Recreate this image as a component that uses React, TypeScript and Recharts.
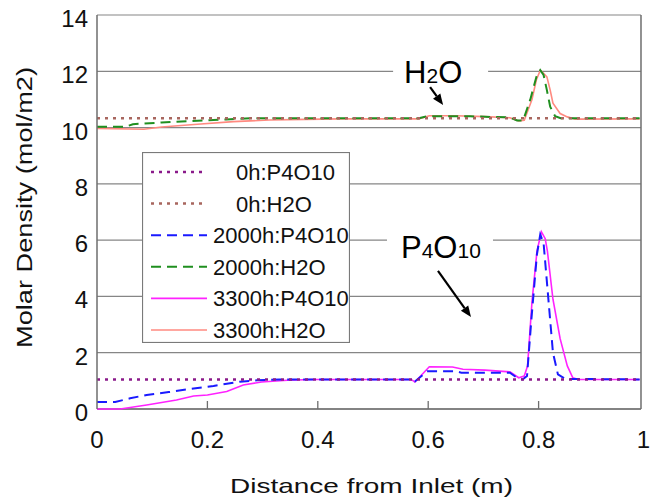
import {
  LineChart,
  Line,
  XAxis,
  YAxis,
  CartesianGrid,
  Legend,
  ReferenceLine,
  ReferenceDot,
} from "recharts";

const FONT = '"Liberation Sans", Arial, sans-serif';

// --- data: distance from inlet (m) / molar density (mol/m2) ---
const X_0H = [0, 0.983];
const P4O10_0H = [1.05, 1.05];
const H2O_0H = [10.33, 10.33];

const X_2000_P4O10 = [
  0, 0.033, 0.06, 0.09, 0.13, 0.175, 0.211, 0.259, 0.29, 0.33, 0.569, 0.576,
  0.598, 0.65, 0.66, 0.748, 0.761, 0.771, 0.779, 0.787, 0.797, 0.803, 0.809,
  0.816, 0.826, 0.835, 0.848, 0.983,
];
const P4O10_2000 = [
  0.25, 0.25, 0.38, 0.5, 0.6, 0.73, 0.82, 0.97, 1.02, 1.05, 1.05, 0.98, 1.34,
  1.34, 1.29, 1.29, 1.11, 1.05, 1.17, 3.2, 5.5, 6.2, 5.9, 4.3, 2.0, 1.23, 1.07,
  1.05,
];

const X_2000_H2O = [
  0, 0.052, 0.065, 0.117, 0.182, 0.234, 0.28, 0.583, 0.598, 0.676, 0.748,
  0.761, 0.772, 0.785, 0.796, 0.803, 0.809, 0.815, 0.821, 0.83, 0.84, 0.983,
];
const H2O_2000 = [
  10.03, 10.03, 10.12, 10.18, 10.24, 10.29, 10.33, 10.33, 10.4, 10.4, 10.36,
  10.25, 10.25, 11.0, 11.8, 12.04, 11.87, 11.33, 10.74, 10.4, 10.33, 10.33,
];

const X_3300_P4O10 = [
  0, 0.042, 0.09, 0.144, 0.175, 0.2, 0.235, 0.265, 0.298, 0.345, 0.39, 0.569,
  0.576, 0.602, 0.644, 0.663, 0.703, 0.748, 0.764, 0.774, 0.78, 0.788, 0.797,
  0.805, 0.812, 0.816, 0.826, 0.839, 0.852, 0.862, 0.872, 0.983,
];
const P4O10_3300 = [
  0, 0, 0.14, 0.32, 0.46, 0.5, 0.62, 0.85, 0.96, 1.02, 1.05, 1.05, 0.96, 1.5,
  1.49, 1.41, 1.38, 1.32, 1.11, 1.17, 1.53, 3.8, 5.6, 6.3, 6.05, 5.6, 3.9, 2.5,
  1.53, 1.11, 1.05, 1.05,
];

const X_3300_H2O = [
  0, 0.085, 0.117, 0.182, 0.247, 0.312, 0.377, 0.44, 0.583, 0.602, 0.65, 0.703,
  0.748, 0.764, 0.774, 0.788, 0.796, 0.803, 0.809, 0.815, 0.821, 0.826, 0.839,
  0.852, 0.866, 0.983,
];
const H2O_3300 = [
  9.97, 9.94, 10.02, 10.12, 10.21, 10.27, 10.29, 10.31, 10.31, 10.42, 10.42,
  10.39, 10.35, 10.24, 10.26, 11.0, 11.7, 12.03, 11.93, 11.8, 11.33, 10.87,
  10.5, 10.38, 10.3, 10.31,
];

const SERIES_NAMES = [
  "0h:P4O10",
  "0h:H2O",
  "2000h:P4O10",
  "2000h:H2O",
  "3300h:P4O10",
  "3300h:H2O",
];

const X_TICKS = [0, 0.2, 0.4, 0.6, 0.8, 1];
const X_TICK_LABELS = ["0", "0.2", "0.4", "0.6", "0.8", "1"];
const Y_TICKS = [0, 2, 4, 6, 8, 10, 12, 14];

// plot frame ends a little before x = 1 in the original figure
const X_FRAME = 0.9855;

type Pt = { x: number; y: number };
const toPoints = (xs: number[], ys: number[]): Pt[] =>
  xs.map((x, i) => ({ x, y: ys[i] }));

type Series = {
  name: string;
  points: Pt[];
  color: string;
  dash?: string;
  width: number;
};

// legend order
const SERIES: Series[] = [
  { name: SERIES_NAMES[0], points: toPoints(X_0H, P4O10_0H), color: "#8a1a8a", dash: "3 5", width: 2.5 },
  { name: SERIES_NAMES[1], points: toPoints(X_0H, H2O_0H), color: "#a8665e", dash: "3 5", width: 2.5 },
  { name: SERIES_NAMES[2], points: toPoints(X_2000_P4O10, P4O10_2000), color: "#1a1aff", dash: "10 6", width: 2 },
  { name: SERIES_NAMES[3], points: toPoints(X_2000_H2O, H2O_2000), color: "#1f8f1f", dash: "10 6", width: 2 },
  { name: SERIES_NAMES[4], points: toPoints(X_3300_P4O10, P4O10_3300), color: "#ff22ff", width: 1.6 },
  { name: SERIES_NAMES[5], points: toPoints(X_3300_H2O, H2O_3300), color: "#ff8a80", width: 1.6 },
];

const GRID = "#868686";
const AXIS = "#6e6e6e";

// --- ticks ---
const XTick = (props: any) => {
  const { x, y, payload } = props;
  const i = X_TICKS.indexOf(payload.value);
  const inner = i > 0 && i < X_TICKS.length - 1;
  const last = i === X_TICKS.length - 1;
  // last label sits at the page edge, keep it inside
  return (
    <g>
      {inner && (
        <line x1={x} x2={x} y1={y} y2={y - 8} stroke={AXIS} strokeWidth={1.3} />
      )}
      <text
        x={last ? Math.min(x + 6, 650) : x}
        y={y + 39}
        textAnchor={last ? "end" : "middle"}
        fontSize={24}
        fontFamily={FONT}
        fill="#111"
      >
        {X_TICK_LABELS[i]}
      </text>
    </g>
  );
};

const YTick = (props: any) => {
  const { x, y, payload } = props;
  return (
    <text x={x - 9} y={y + 12} textAnchor="end" fontSize={24} fontFamily={FONT} fill="#111">
      {payload.value}
    </text>
  );
};

// --- axis titles ---
const XTitle = (props: any) => {
  const vb = props.viewBox || { x: 97, y: 409, width: 552 };
  return (
    <text
      x={vb.x + vb.width / 2 - 1.5}
      y={vb.y + 84}
      textAnchor="middle"
      fontSize={21}
      fontFamily={FONT}
      fill="#111"
      textLength={283}
      lengthAdjust="spacingAndGlyphs"
    >
      Distance from Inlet (m)
    </text>
  );
};

const YTitle = (props: any) => {
  const vb = props.viewBox || { x: 37, y: 15, height: 394 };
  const cx = vb.x - 13;
  const cy = vb.y + vb.height / 2 - 4.5;
  return (
    <text
      x={cx}
      y={cy}
      transform={`rotate(-90, ${cx}, ${cy})`}
      textAnchor="middle"
      dominantBaseline="central"
      fontSize={22}
      fontFamily={FONT}
      fill="#111"
      textLength={281}
      lengthAdjust="spacingAndGlyphs"
    >
      Molar Density (mol/m2)
    </text>
  );
};

// --- legend box ---
const LegendBox = () => (
  <svg width={208} height={191} style={{ display: "block" }}>
    <rect x={0.5} y={0.5} width={207} height={190} fill="#fff" stroke="#7a7a7a" strokeWidth={1.2} />
    {SERIES.map((s, i) => {
      const cy = 20 + i * 31.6;
      return (
        <g key={s.name}>
          <line x1={9} x2={65} y1={cy} y2={cy} stroke={s.color} strokeWidth={s.width} strokeDasharray={s.dash} />
          <text
            x={s.name.startsWith("0h") ? 94 : 71}
            y={cy + 8}
            fontSize={22}
            fontFamily={FONT}
            fill="#111"
          >
            {s.name}
          </text>
        </g>
      );
    })}
  </svg>
);

// --- annotations (label + arrow pointing to a data location) ---
const arrow = (x1: number, y1: number, x2: number, y2: number) => {
  const dx = x2 - x1;
  const dy = y2 - y1;
  const len = Math.hypot(dx, dy);
  const ux = dx / len;
  const uy = dy / len;
  const bx = x2 - ux * 11;
  const by = y2 - uy * 11;
  return (
    <g>
      <line x1={x1} y1={y1} x2={bx} y2={by} stroke="#000" strokeWidth={2.2} />
      <polygon
        points={`${x2},${y2} ${bx - uy * 4.5},${by + ux * 4.5} ${bx + uy * 4.5},${by - ux * 4.5}`}
        fill="#000"
      />
    </g>
  );
};

const H2OMark = (props: any) => {
  const { cx, cy } = props;
  return (
    <g>
      <rect x={cx - 50} y={cy - 45} width={95} height={26} fill="#fff" />
      <text x={cx - 39} y={cy - 22} fontSize={31} fontFamily={FONT} fill="#000">
        H<tspan fontSize={21}>2</tspan>O
      </text>
      {arrow(cx - 13, cy - 18, cx, cy)}
    </g>
  );
};

const P4O10Mark = (props: any) => {
  const { cx, cy } = props;
  return (
    <g>
      <rect x={cx - 84} y={cy - 85} width={106} height={30} fill="#fff" />
      <text x={cx - 70} y={cy - 59} fontSize={31} fontFamily={FONT} fill="#000">
        P<tspan fontSize={21}>4</tspan>O<tspan fontSize={21}>10</tspan>
      </text>
      {arrow(cx - 33, cy - 46, cx, cy)}
    </g>
  );
};

export default function App() {
  return (
    <div style={{ position: "absolute", left: 0, top: 0, width: 651, height: 500, background: "#fff" }}>
      <LineChart width={651} height={500} margin={{ top: 15, right: 2, bottom: 31, left: 37 }}>
        <CartesianGrid vertical={false} stroke={GRID} strokeWidth={1.2} x={97} width={544} />
        <XAxis
          type="number"
          dataKey="x"
          domain={[0, 1]}
          ticks={X_TICKS}
          interval={0}
          tickSize={0}
          tickMargin={0}
          axisLine={false}
          tickLine={false}
          tick={<XTick />}
          height={60}
          label={XTitle}
        />
        <YAxis
          type="number"
          dataKey="y"
          domain={[0, 14]}
          ticks={Y_TICKS}
          interval={0}
          tickSize={0}
          tickMargin={0}
          axisLine={{ stroke: AXIS, strokeWidth: 1.5 }}
          tickLine={false}
          tick={<YTick />}
          width={60}
          label={YTitle}
        />
        <ReferenceLine
          segment={[{ x: 0, y: 0 }, { x: X_FRAME, y: 0 }]}
          stroke={AXIS}
          strokeWidth={1.5}
        />
        <ReferenceLine
          segment={[{ x: X_FRAME, y: 0 }, { x: X_FRAME, y: 14 }]}
          stroke={AXIS}
          strokeWidth={1.5}
        />

        {[...SERIES].reverse().map((s) => (
          <Line
            key={s.name}
            data={s.points}
            dataKey="y"
            name={s.name}
            type="linear"
            stroke={s.color}
            strokeWidth={s.width}
            strokeDasharray={s.dash}
            dot={false}
            activeDot={false}
            isAnimationActive={false}
          />
        ))}

        <ReferenceDot x={0.627} y={10.8} shape={H2OMark} ifOverflow="visible" />
        <ReferenceDot x={0.6775} y={3.27} shape={P4O10Mark} ifOverflow="visible" />

        <Legend
          layout="vertical"
          align="center"
          verticalAlign="middle"
          content={() => <LegendBox />}
          wrapperStyle={{ left: 142, top: 152, width: 208, height: 191 }}
        />
      </LineChart>
    </div>
  );
}
